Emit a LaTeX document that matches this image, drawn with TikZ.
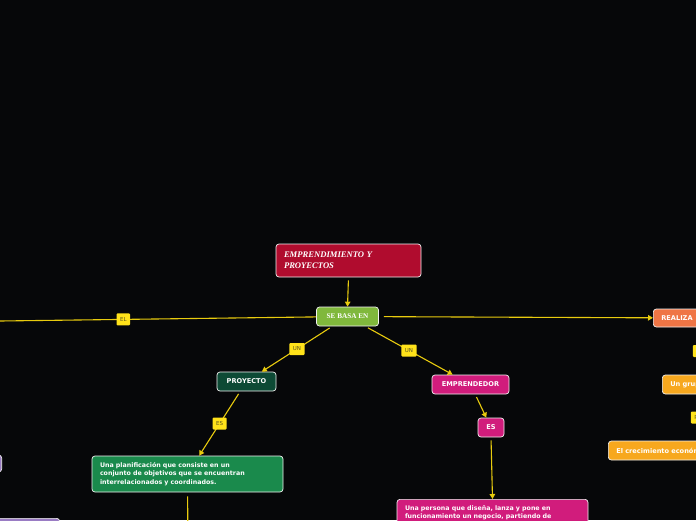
\documentclass[tikz,border=0pt]{standalone}
\usepackage{fontspec}
\newfontfamily\nodefont{DejaVu Sans}
\newfontfamily\titlefont{Liberation Serif}
\usetikzlibrary{arrows.meta}
\definecolor{bgc}{HTML}{060709}
\definecolor{titlec}{HTML}{B00C2E}
\definecolor{basac}{HTML}{80B83C}
\definecolor{proyc}{HTML}{0D4A35}
\definecolor{greenc}{HTML}{1A8A4C}
\definecolor{magc}{HTML}{D11C7C}
\definecolor{orangec}{HTML}{EF7545}
\definecolor{ambc}{HTML}{F7A81E}
\definecolor{lavc}{HTML}{9A7CC4}
\definecolor{linec}{HTML}{E8CB0E}
\definecolor{laby}{HTML}{FFE21A}
\definecolor{labt}{HTML}{5A5320}
\tikzset{
  box/.style={draw=white!90!gray, line width=0.7pt, rounded corners=3pt, text=white, inner sep=0pt},
  sbox/.style={box, font=\nodefont\bfseries\fontsize{6.6}{8}\selectfont, minimum height=19pt},
  tbox/.style={box, font=\nodefont\bfseries\fontsize{6.3}{8.6}\selectfont, align=left, inner xsep=8pt},
  conn/.style={draw=linec, line width=1.1pt},
  arr/.style={conn, -{Triangle[width=5.5pt,length=5pt]}, shorten <=3pt},
  lbl/.style={fill=laby, text=labt, font=\nodefont\fontsize{5.5}{6}\selectfont, inner xsep=3.5pt, inner ysep=0pt, minimum height=12pt, rounded corners=1pt}
}
\begin{document}
\begin{tikzpicture}[x=1pt,y=-1pt]
\fill[bgc] (0,0) rectangle (696,520);
\useasboundingbox (0,0) rectangle (696,520);
\clip (0,0) rectangle (696,520);

% nodes
\node[box, fill=titlec, minimum width=145pt, minimum height=33pt, text width=129pt, inner xsep=8pt, align=left,
  font=\titlefont\bfseries\itshape\fontsize{8.6}{10.8}\selectfont] (title) at (348.5,260.5) {EMPRENDIMIENTO Y\\PROYECTOS};
\node[box, fill=basac, minimum width=62pt, minimum height=19pt,
  font=\titlefont\bfseries\fontsize{7.2}{8}\selectfont] (sebasa) at (347.5,316.5) {SE BASA EN};
\node[sbox, fill=proyc, minimum width=59pt] (proyecto) at (246.5,381.5) {PROYECTO};
\node[sbox, fill=magc, minimum width=77pt] (emprendedor) at (470.5,384.5) {EMPRENDEDOR};
\node[sbox, fill=magc, minimum width=26pt] (es) at (491,427.5) {ES};
\node[tbox, fill=greenc, minimum height=36pt, text width=175pt] (green) at (187.5,474)
  {Una planificación que consiste en un\\conjunto de objetivos que se encuentran\\interrelacionados y coordinados.};
\node[tbox, fill=magc, anchor=north, text width=175pt, inner ysep=6pt] (big) at (492.5,499)
  {Una persona que diseña, lanza y pone en\\funcionamiento un negocio, partiendo de\par\vspace*{40pt}};
\node[sbox, fill=orangec, anchor=west, minimum height=18pt, text width=72pt, inner xsep=8pt, align=left] (realiza) at (653,318) {REALIZA};
\node[sbox, fill=ambc, anchor=west, text width=58pt, inner xsep=8pt, align=left] (ungru) at (662,384.5) {Un grupo};
\node[sbox, fill=ambc, anchor=west, text width=174pt, inner xsep=8pt, align=left] (crec) at (608,450.5) {El crecimiento económico};
\node[box, fill=lavc, anchor=east, minimum width=80pt, minimum height=17pt] (lavA) at (2,463.5) {};
\node[box, fill=lavc, anchor=north east, minimum width=160pt, minimum height=40pt] (lavB) at (60,518) {};

% connectors
\coordinate (leftend) at (0,321);
\coordinate (greendown) at (188,560);
\draw[arr] (title.south) -- (sebasa.north);
\draw[conn] (sebasa) -- node[lbl, pos=0.61] {EL} (leftend);
\draw[arr] (sebasa) -- node[lbl] {UN} (proyecto);
\draw[arr] (sebasa) -- node[lbl] {UN} (emprendedor);
\draw[arr] (proyecto) -- node[lbl] {ES} (green);
\draw[arr] (emprendedor) -- (es);
\draw[arr] (es.south) -- (big.north);
\draw[arr, shorten <=5pt] (sebasa) -- (realiza);
\draw[conn, shorten <=4pt] (green) -- (greendown);
\draw[arr] (realiza) -- node[lbl] {A} (ungru);
\draw[arr] (ungru) -- node[lbl] {PARA} (crec);
\end{tikzpicture}
\end{document}
